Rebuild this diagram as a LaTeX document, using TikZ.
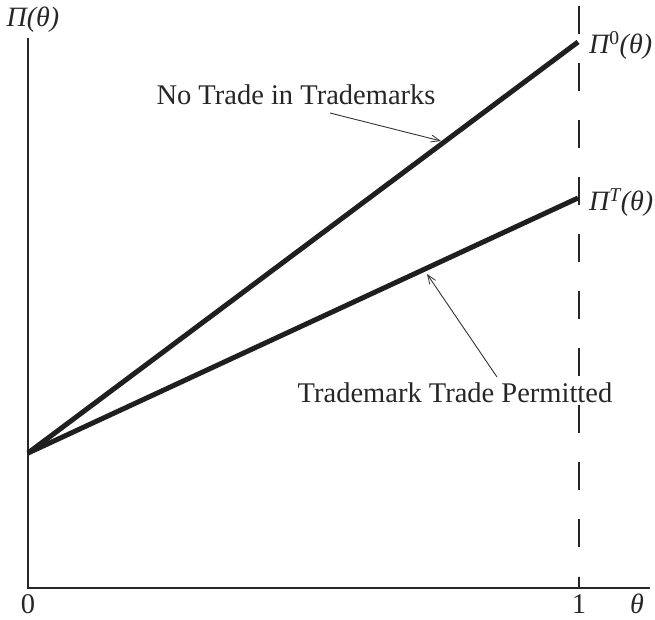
\documentclass[tikz,border=0pt]{standalone}
\usepackage{fontspec}
\setmainfont{Liberation Serif}
\usetikzlibrary{arrows.meta}
\begin{document}
\begin{tikzpicture}[x=1pt,y=-1pt,
  axis/.style={line width=2.4pt,draw=black!85},
  curve/.style={line width=5pt,draw=black!88},
  pointer/.style={line width=0.9pt,draw=black!80,-{Straight Barb[length=9pt,width=7pt,line width=0.8pt]}},
  lbl/.style={font=\fontsize{28.5}{32}\selectfont,text=black!85,inner sep=0pt},
  mathlbl/.style={font=\fontsize{28}{32}\selectfont\itshape,text=black!85,inner sep=0pt}]
\useasboundingbox (0,0) rectangle (655,619);
% axes
\coordinate (O) at (28,588);
\coordinate (ytop) at (28,38);
\coordinate (xend) at (650,588);
\draw[axis] (ytop) -- (O) -- (xend);
% boundary at theta = 1
\coordinate (tick) at (579,577);
\coordinate (onebase) at (579,588);
\coordinate (dtop) at (579,6);
\draw[axis,line width=2pt] (onebase) -- (tick);
\draw[axis,line width=2pt,dash pattern=on 28pt off 29pt] (dtop) -- (579,576);
% profit lines
\coordinate (start) at (28,453);
\coordinate (endA) at (578,42);
\coordinate (endB) at (578,198);
\draw[curve] (start) -- (endA);
\draw[curve] (start) -- (endB);
% labels
\node[mathlbl] (ylab) at (33,20) {Π(θ)};
\node[mathlbl,anchor=west] (labA) at (589,45) {Π\textsuperscript{\upshape 0}(θ)};
\node[mathlbl,anchor=west] (labB) at (589,203) {Π\textsuperscript{T}(θ)};
\node[lbl] (zero) at (28,604) {0};
\node[lbl] (one) at (579,604) {1};
\node[mathlbl] (th) at (637,604) {θ};
% annotations
\node[lbl] (noTrade) at (296,95) {No Trade in Trademarks};
\node[lbl] (permit) at (455,393) {Trademark Trade Permitted};
\coordinate (tipA) at (441,141);
\coordinate (tipB) at (427,274);
\draw[pointer] (330,113) -- (tipA);
\draw[pointer] (497,377) -- (tipB);
\end{tikzpicture}
\end{document}
